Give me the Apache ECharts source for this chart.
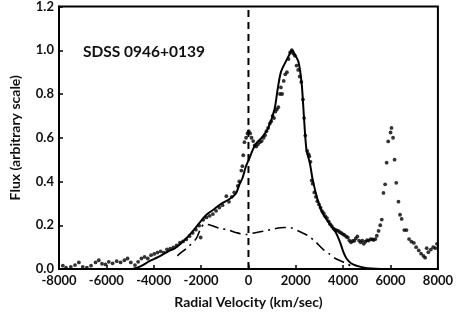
<!DOCTYPE html>
<html>
<head>
<meta charset="utf-8">
<script src="https://cdn.jsdelivr.net/npm/echarts@6/dist/echarts.min.js"></script>
<style>
html,body{margin:0;padding:0;background:#fff;}
#c{width:456px;height:314px;}
</style>
</head>
<body>
<div id="c"></div>
<script>
// Observed spectrum (dots)
var obsVel = [-7838,-7703,-7500,-7322,-7160,-6997,-6822,-6647,-6457,-6321,-6185,-6039,-5900,-5738,-5563,-5401,-5239,-5105,-4967,-4792,-4658,-4520,-4386,-4252,-4115,-3980,-3845,-3708,-3573,-3439,-3302,-3167,-3033,-2895,-2761,-2627,-2489,-2355,-2221,-2083,-2018,-1908,-1774,-1636,-1502,-1368,-1230,-1096,-934,-824,-700,-600,-450,-390,-300,-256,-220,-170,-100,-40,10,70,130,200,260,330,400,480,560,640,700,760,830,900,960,1020,1080,1140,1200,1260,1330,1370,1420,1490,1555,1625,1690,1760,1830,1895,1960,2030,2100,2165,2230,2300,2350,2400,2480,2540,2570,2620,2670,2710,2780,2845,2910,2980,3045,3110,3180,3250,3315,3385,3450,3520,3590,3655,3720,3790,3860,3930,4000,4060,4130,4195,4260,4330,4400,4470,4530,4600,4670,4740,4810,4870,4940,5010,5080,5160,5230,5290,5360,5420,5495,5565,5630,5700,5770,5835,5900,6000,6040,6105,6170,6240,6335,6400,6470,6580,6675,6780,6880,6985,7080,7190,7290,7390,7460,7525,7595,7700,7800,7890,7960];
var obsFlux = [0.015,0.006,0.010,0.018,0.030,0.010,0.006,0.015,0.030,0.040,0.024,0.021,0.033,0.026,0.036,0.030,0.040,0.048,0.030,0.018,0.033,0.048,0.055,0.048,0.063,0.069,0.075,0.081,0.075,0.090,0.093,0.099,0.108,0.120,0.126,0.135,0.150,0.165,0.180,0.198,0.144,0.225,0.236,0.243,0.251,0.266,0.281,0.292,0.333,0.307,0.330,0.350,0.380,0.400,0.450,0.470,0.520,0.580,0.600,0.620,0.630,0.620,0.600,0.585,0.565,0.560,0.570,0.580,0.585,0.600,0.612,0.630,0.645,0.665,0.675,0.700,0.690,0.720,0.730,0.740,0.800,0.830,0.800,0.860,0.890,0.900,0.960,0.990,1.000,0.985,0.975,0.930,0.910,0.880,0.855,0.775,0.690,0.610,0.540,0.525,0.515,0.490,0.405,0.390,0.350,0.330,0.310,0.295,0.280,0.265,0.255,0.240,0.233,0.218,0.205,0.196,0.185,0.180,0.177,0.174,0.168,0.164,0.158,0.155,0.148,0.144,0.130,0.122,0.128,0.129,0.140,0.149,0.130,0.122,0.130,0.115,0.125,0.132,0.130,0.137,0.135,0.133,0.137,0.152,0.174,0.200,0.226,0.348,0.387,0.486,0.583,0.624,0.645,0.600,0.500,0.394,0.308,0.248,0.229,0.178,0.178,0.137,0.125,0.119,0.100,0.085,0.070,0.060,0.052,0.095,0.077,0.089,0.100,0.095,0.115];

// Model fit (solid line)
var modelVel = [-4900,-4700,-4500,-4200,-3800,-3400,-3100,-2800,-2400,-2000,-1750,-1470,-1200,-800,-530,-390,-255,-120,15,285,555,825,1100,1230,1370,1570,1775,1840,1975,2110,2245,2340,2450,2590,2720,2925,3130,3400,3670,3870,4010,4140,4345,4620,4885,5200,5600];
var modelFlux = [0.000,0.006,0.015,0.035,0.055,0.080,0.095,0.122,0.166,0.220,0.250,0.272,0.295,0.320,0.345,0.385,0.415,0.465,0.500,0.568,0.600,0.642,0.730,0.820,0.900,0.947,0.990,1.000,0.977,0.947,0.850,0.700,0.545,0.485,0.404,0.315,0.256,0.211,0.170,0.122,0.077,0.048,0.025,0.013,0.006,0.002,0.000];

// Second component (dash-dot line)
var compVel = [-3000,-2900,-2560,-2200,-2000,-1850,-1600,-1200,-900,-500,-100,285,690,1100,1500,1775,2110,2520,2790,3200,3400,3670,4140,4300];
var compFlux = [0.060,0.070,0.100,0.140,0.190,0.205,0.200,0.185,0.180,0.166,0.158,0.166,0.174,0.184,0.190,0.189,0.174,0.152,0.129,0.085,0.070,0.048,0.025,0.015];

// Vertical reference line at zero velocity
var refVel = [0, 0];
var refFlux = [0, 1.2];

var xMin = -8000, xMax = 8000, xStep = 2000;
var yMin = 0, yMax = 1.2, yStep = 0.2;
var label = 'SDSS 0946+0139';
var xTitle = 'Radial Velocity (km/sec)';
var yTitle = 'Flux (arbitrary scale)';

function zip(a, b) { return a.map(function (v, i) { return [v, b[i]]; }); }

var FONT = 'Lato';
var chart = echarts.init(document.getElementById('c'), null, {renderer: 'canvas'});
chart.setOption({
  animation: false,
  backgroundColor: '#fff',
  grid: {left: 46, right: 16, top: 5, bottom: 40, show: true, borderColor: '#000', borderWidth: 2, containLabel: false},
  xAxis: {
    type: 'value', min: xMin, max: xMax, interval: xStep,
    name: xTitle, nameLocation: 'middle', nameGap: 26,
    nameTextStyle: {fontFamily: FONT, fontWeight: 'bold', fontSize: 14, color: '#111'},
    axisLine: {show: true, onZero: false, lineStyle: {color: '#000', width: 2}},
    axisTick: {show: true, inside: true, length: 4, lineStyle: {color: '#000', width: 1.5}},
    axisLabel: {fontFamily: FONT, fontWeight: 'bold', fontSize: 13, color: '#111', margin: 5,
      formatter: function (v) { return String(v); }},
    splitLine: {show: false}
  },
  yAxis: {
    type: 'value', min: yMin, max: yMax, interval: yStep,
    name: yTitle, nameLocation: 'middle', nameGap: 37,
    nameTextStyle: {fontFamily: FONT, fontWeight: 'bold', fontSize: 14, color: '#111'},
    axisLine: {show: true, onZero: false, lineStyle: {color: '#000', width: 2}},
    axisTick: {show: true, inside: true, length: 4, lineStyle: {color: '#000', width: 1.5}},
    axisLabel: {fontFamily: FONT, fontWeight: 'bold', fontSize: 13, color: '#111', margin: 5,
      formatter: function (v) { return v.toFixed(1); }},
    splitLine: {show: false}
  },
  graphic: [{
    type: 'text', left: 83, top: 44,
    style: {text: label, font: 'bold 15.5px Lato', fill: '#111'}
  }],
  series: [
    {
      type: 'line', data: zip(refVel, refFlux), showSymbol: false, silent: true,
      lineStyle: {color: '#000', width: 2, type: [7, 5]}, z: 1
    },
    {
      type: 'line', data: zip(compVel, compFlux), showSymbol: false, smooth: 0.3,
      lineStyle: {color: '#000', width: 1.6, type: [11, 5, 2, 5]}, z: 2
    },
    {
      type: 'line', data: zip(modelVel, modelFlux), showSymbol: false, smooth: 0.3,
      lineStyle: {color: '#000', width: 2}, z: 3
    },
    {
      type: 'scatter', data: zip(obsVel, obsFlux), symbol: 'circle', symbolSize: 3.8,
      itemStyle: {color: '#000'}, z: 4
    }
  ]
});
</script>
</body>
</html>
